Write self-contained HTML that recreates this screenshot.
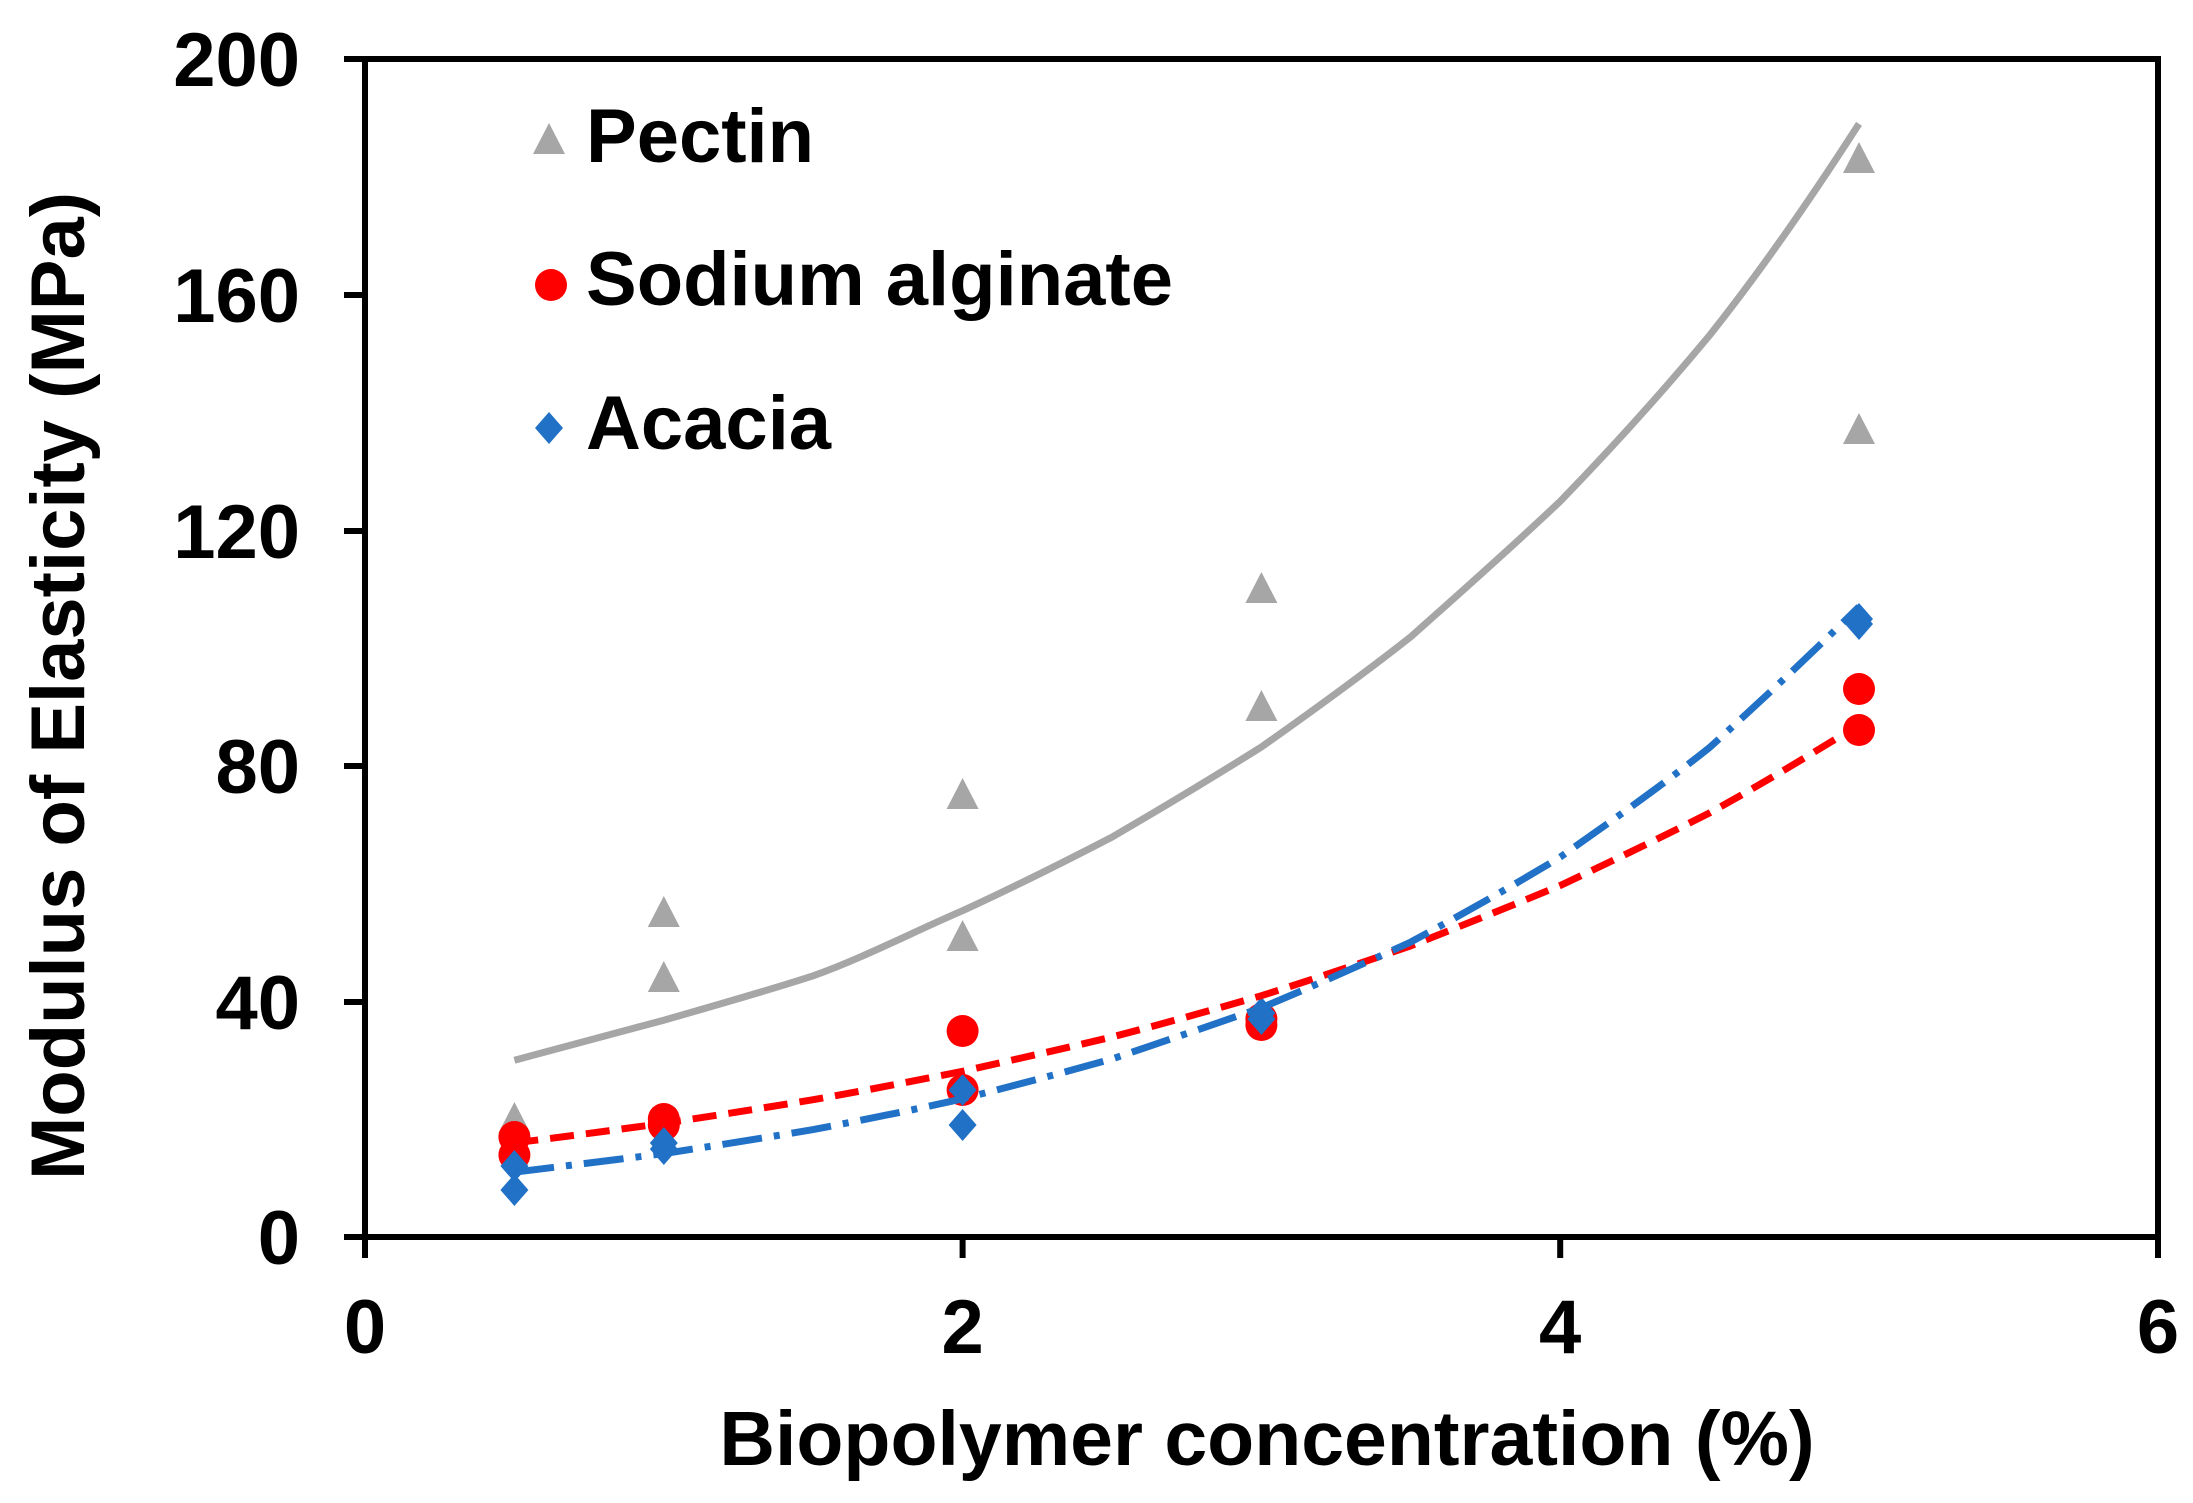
<!DOCTYPE html>
<html><head><meta charset="utf-8"><style>
html,body{margin:0;padding:0;background:#fff;}
svg{display:block;}
text{font-family:"Liberation Sans",Arial,sans-serif;font-weight:bold;fill:#000;}
</style></head><body>
<svg width="2193" height="1503" viewBox="0 0 2193 1503" xmlns="http://www.w3.org/2000/svg">
<defs>
<path id="tri" d="M0,-17 L16,14 L-16,14 Z" fill="#a6a6a6"/>
<circle id="cir" r="16" fill="#ff0000"/>
<path id="dia" d="M0,-16 L14,0 L0,16 L-14,0 Z" fill="#2171c7"/>
</defs>
<g>
<use href="#tri" x="514.4" y="1119"/><use href="#tri" x="663.8" y="913"/><use href="#tri" x="663.8" y="978"/>
<use href="#tri" x="962.6" y="795"/><use href="#tri" x="962.6" y="937"/><use href="#tri" x="1261.4" y="589"/>
<use href="#tri" x="1261.4" y="707"/><use href="#tri" x="1859" y="159"/><use href="#tri" x="1859" y="430"/>
<use href="#cir" x="514.4" y="1137"/><use href="#cir" x="514.4" y="1155"/><use href="#cir" x="663.8" y="1119"/>
<use href="#cir" x="663.8" y="1125"/><use href="#cir" x="962.6" y="1031"/><use href="#cir" x="962.6" y="1090"/>
<use href="#cir" x="1261.4" y="1025"/><use href="#cir" x="1261.4" y="1019"/><use href="#cir" x="1859" y="689"/>
<use href="#cir" x="1859" y="730"/>
<use href="#dia" x="514.4" y="1166"/><use href="#dia" x="514.4" y="1190"/><use href="#dia" x="663.8" y="1143"/>
<use href="#dia" x="663.8" y="1149"/><use href="#dia" x="962.6" y="1090"/><use href="#dia" x="962.6" y="1125"/>
<use href="#dia" x="1261.4" y="1013"/><use href="#dia" x="1261.4" y="1019"/><use href="#dia" x="1859" y="619"/>
<use href="#dia" x="1859" y="624"/>
</g>
<path fill="none" stroke="#a6a6a6" stroke-width="7" d="M514.4,1060.3 C564,1047 614,1034 663.8,1020.2 C713,1006 763,992 813.2,975.8 C863,958 913,932 962.6,910.7 C1012,888 1062,863 1112,837.1 C1162,808 1212,778 1261.4,747 C1311,712 1361,676 1410.8,636.8 C1461,592 1511,548 1560.2,501.3 C1610,450 1660,395 1709.6,335.3 C1760,272 1810,200 1859,123.8"/>
<path fill="none" stroke="#ff0000" stroke-width="7" stroke-dasharray="24,12" d="M514.4,1142.8 C564,1137 614,1130 663.8,1123.3 C713,1116 763,1108 813.2,1099.7 C863,1091 913,1081 962.6,1071.3 C1012,1060 1062,1049 1112,1037 C1162,1024 1212,1010 1261.4,995.7 C1311,980 1361,963 1410.8,945.8 C1461,926 1511,906 1560.2,885.5 C1610,862 1660,838 1709.6,812.9 C1760,785 1810,755 1859,724.6"/>
<path fill="none" stroke="#2171c7" stroke-width="7" stroke-dasharray="40,12,6,12" d="M514.4,1172.2 C564,1166 614,1160 663.8,1153.6 C713,1146 763,1138 813.2,1129.6 C863,1120 913,1110 962.6,1098.8 C1012,1086 1062,1073 1112,1059 C1162,1042 1212,1025 1261.4,1007.8 C1311,987 1361,965 1410.8,942 C1461,915 1511,887 1560.2,857.1 C1610,822 1660,787 1709.6,747.5 C1760,702 1810,655 1859,606.8"/>
<g stroke="#000" stroke-width="6" fill="none">
<rect x="365" y="59" width="1793" height="1178"/>
<line x1="344" y1="59" x2="365" y2="59"/><line x1="344" y1="295" x2="365" y2="295"/>
<line x1="344" y1="531" x2="365" y2="531"/><line x1="344" y1="766" x2="365" y2="766"/>
<line x1="344" y1="1002" x2="365" y2="1002"/><line x1="344" y1="1237" x2="365" y2="1237"/>
<line x1="365" y1="1237" x2="365" y2="1258"/><line x1="962.6" y1="1237" x2="962.6" y2="1258"/>
<line x1="1560.2" y1="1237" x2="1560.2" y2="1258"/><line x1="2158" y1="1237" x2="2158" y2="1258"/>
</g>
<g font-size="76" text-anchor="end">
<text x="300" y="86">200</text><text x="300" y="322">160</text><text x="300" y="558">120</text>
<text x="300" y="793">80</text><text x="300" y="1029">40</text><text x="300" y="1264">0</text>
</g>
<g font-size="76" text-anchor="middle">
<text x="365" y="1353">0</text><text x="962.6" y="1353">2</text><text x="1560.2" y="1353">4</text><text x="2158" y="1353">6</text>
</g>
<text x="1267" y="1465" font-size="77" text-anchor="middle">Biopolymer concentration (%)</text>
<text transform="translate(84,686) rotate(-90)" font-size="76" text-anchor="middle">Modulus of Elasticity (MPa)</text>
<use href="#tri" x="549" y="140"/><use href="#cir" x="551" y="285"/><use href="#dia" x="549" y="428"/>
<g font-size="76">
<text x="586" y="162">Pectin</text>
<text x="586" y="305">Sodium alginate</text>
<text x="586" y="449">Acacia</text>
</g>
</svg>
</body></html>
